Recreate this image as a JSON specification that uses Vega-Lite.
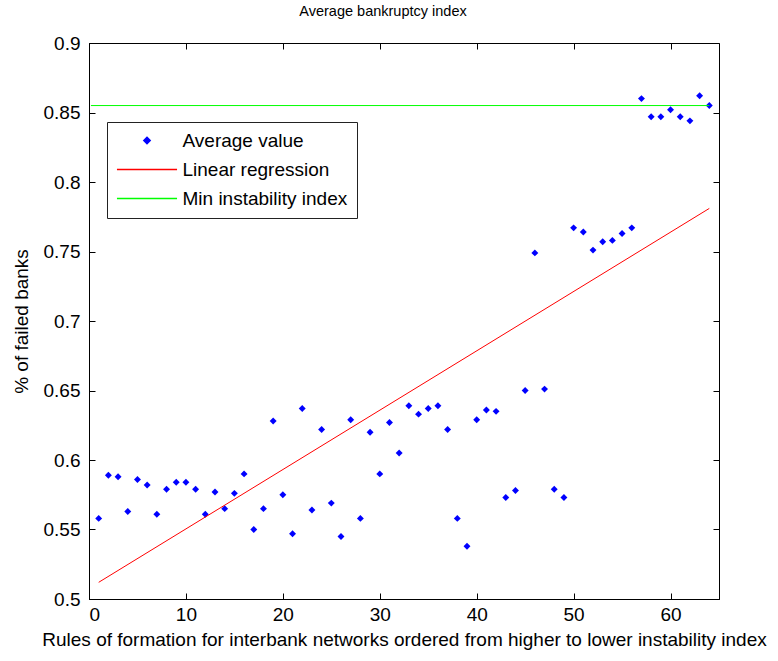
{
  "$schema": "https://vega.github.io/schema/vega-lite/v6.json",
  "width": 630,
  "height": 556,
  "autosize": {"type": "none"},
  "padding": {"left": 89, "top": 43, "right": 59, "bottom": 62},
  "background": "white",
  "config": {
    "font": "Liberation Sans",
    "view": {"stroke": "black", "strokeWidth": 1},
    "axis": {"labelFont": "Liberation Sans", "titleFont": "Liberation Sans", "labelFontSize": 19, "titleFontSize": 19, "titleFontWeight": "normal", "labelColor": "black", "titleColor": "black", "domainColor": "black", "tickColor": "black", "grid": false, "tickSize": -6}
  },
  "title": {"text": "Average bankruptcy index", "fontSize": 14.5, "fontWeight": "normal", "font": "Liberation Sans", "offset": 15, "dx": -21, "color": "black"},
  "resolve": {"axis": {"x": "independent", "y": "independent"}},
  "datasets": {
    "pts": [
      {"x":1,"y":0.558},{"x":2,"y":0.589},{"x":3,"y":0.588},{"x":4,"y":0.563},{"x":5,"y":0.586},{"x":6,"y":0.582},{"x":7,"y":0.561},{"x":8,"y":0.579},{"x":9,"y":0.584},{"x":10,"y":0.584},
      {"x":11,"y":0.579},{"x":12,"y":0.561},{"x":13,"y":0.577},{"x":14,"y":0.565},{"x":15,"y":0.576},{"x":16,"y":0.590},{"x":17,"y":0.550},{"x":18,"y":0.565},{"x":19,"y":0.628},{"x":20,"y":0.575},
      {"x":21,"y":0.547},{"x":22,"y":0.637},{"x":23,"y":0.564},{"x":24,"y":0.622},{"x":25,"y":0.569},{"x":26,"y":0.545},{"x":27,"y":0.629},{"x":28,"y":0.558},{"x":29,"y":0.620},{"x":30,"y":0.590},
      {"x":31,"y":0.627},{"x":32,"y":0.605},{"x":33,"y":0.639},{"x":34,"y":0.633},{"x":35,"y":0.637},{"x":36,"y":0.639},{"x":37,"y":0.622},{"x":38,"y":0.558},{"x":39,"y":0.538},{"x":40,"y":0.629},
      {"x":41,"y":0.636},{"x":42,"y":0.635},{"x":43,"y":0.573},{"x":44,"y":0.578},{"x":45,"y":0.650},{"x":46,"y":0.749},{"x":47,"y":0.651},{"x":48,"y":0.579},{"x":49,"y":0.573},{"x":50,"y":0.767},
      {"x":51,"y":0.764},{"x":52,"y":0.751},{"x":53,"y":0.757},{"x":54,"y":0.758},{"x":55,"y":0.763},{"x":56,"y":0.767},{"x":57,"y":0.860},{"x":58,"y":0.847},{"x":59,"y":0.847},{"x":60,"y":0.852},
      {"x":61,"y":0.847},{"x":62,"y":0.844},{"x":63,"y":0.862},{"x":64,"y":0.855}
    ],
    "reg": [{"x":1,"y":0.512},{"x":64,"y":0.781}],
    "minline": [{"x":0.2,"y":0.855},{"x":64,"y":0.855}]
  },
  "layer": [
    {
      "data": {"name": "pts"},
      "mark": {"type": "point", "filled": true, "opacity": 1, "size": 48},
      "encoding": {
        "x": {"field": "x", "type": "quantitative", "scale": {"domain": [0, 65], "nice": false}, "axis": {"values": [0,10,20,30,40,50,60], "title": "Rules of formation for interbank networks ordered from higher to lower instability index", "titlePadding": 6, "labelPadding": 12}},
        "y": {"field": "y", "type": "quantitative", "scale": {"domain": [0.5, 0.9], "nice": false, "zero": false}, "axis": {"values": [0.5,0.55,0.6,0.65,0.7,0.75,0.8,0.85,0.9], "format": ".2~f", "title": "% of failed banks", "titlePadding": 12, "labelPadding": 15}},
        "color": {"datum": "Average value", "type": "nominal", "scale": {"domain": ["Average value", "Linear regression", "Min instability index"], "range": ["#0000ff", "#ff0000", "#00ff00"]},
          "legend": {"title": null, "orient": "none", "legendX": 18, "legendY": 79, "strokeColor": "#222222", "fillColor": "white", "padding": 9, "labelFontSize": 19, "labelFont": "Liberation Sans", "labelColor": "black", "labelLimit": 400, "rowPadding": 9, "labelOffset": 26, "symbolOffset": 21.5, "symbolSize": 40,
            "encode": {"symbols": {"stroke": {"scale": "color", "field": "value"}, "fill": {"scale": "color", "field": "value"}, "strokeWidth": {"value": 1.2}}}}},
        "shape": {"datum": "Average value", "type": "nominal", "scale": {"domain": ["Average value", "Linear regression", "Min instability index"], "range": ["diamond", "M-9.5,0H9.5", "M-9.5,0H9.5"]}, "legend": {"title": null}}
      }
    },
    {
      "data": {"name": "minline"},
      "mark": {"type": "line", "strokeWidth": 1},
      "encoding": {
        "x": {"field": "x", "type": "quantitative", "axis": {"orient": "top", "values": [0,10,20,30,40,50,60], "labels": false, "title": null, "domain": false}},
        "y": {"field": "y", "type": "quantitative", "axis": {"orient": "right", "values": [0.5,0.55,0.6,0.65,0.7,0.75,0.8,0.85,0.9], "labels": false, "title": null, "domain": false}},
        "color": {"datum": "Min instability index", "type": "nominal"}
      }
    },
    {
      "data": {"name": "reg"},
      "mark": {"type": "line", "strokeWidth": 1},
      "encoding": {
        "x": {"field": "x", "type": "quantitative", "axis": null},
        "y": {"field": "y", "type": "quantitative", "axis": null},
        "color": {"datum": "Linear regression", "type": "nominal"}
      }
    }
  ]
}
